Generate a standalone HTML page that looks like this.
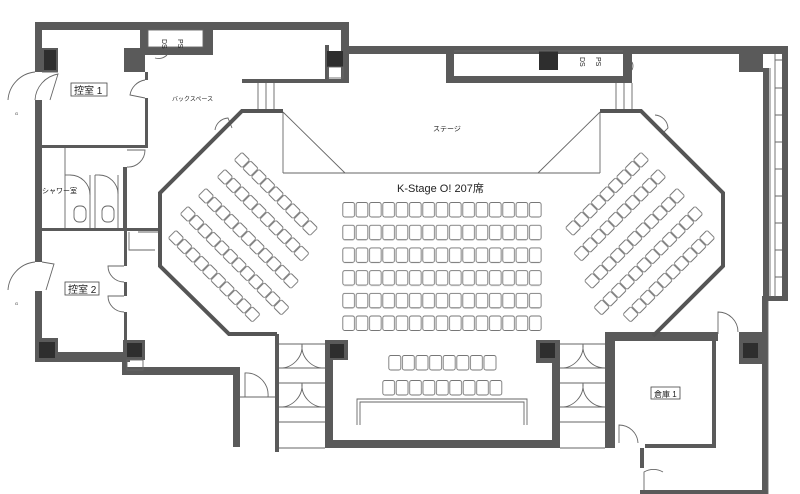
<!DOCTYPE html>
<html><head><meta charset="utf-8"><style>
html,body{margin:0;padding:0;background:#fff;}
svg{display:block;}
text{font-family:"Liberation Sans","Noto Sans CJK JP",sans-serif;fill:#222;}
</style></head><body>
<svg width="800" height="494" viewBox="0 0 800 494" xmlns="http://www.w3.org/2000/svg">
<defs>
<pattern id="dseat" width="12" height="12" patternUnits="userSpaceOnUse" x="-6" y="-6">
<rect x="0.5" y="0.5" width="11" height="11" rx="1.8" fill="#fff" stroke="#777" stroke-width="0.9"/>
</pattern>
<pattern id="cseat" width="13.33" height="16" patternUnits="userSpaceOnUse" x="342" y="202">
<rect x="0.8" y="0.5" width="11.7" height="14.5" rx="2" fill="#fff" stroke="#777" stroke-width="0.9"/>
</pattern>
<pattern id="fseat" width="13.6" height="16" patternUnits="userSpaceOnUse" x="388" y="355">
<rect x="0.8" y="0.5" width="12" height="14.5" rx="2" fill="#fff" stroke="#777" stroke-width="0.9"/>
</pattern>
<pattern id="fseat2" width="13.4" height="16" patternUnits="userSpaceOnUse" x="382" y="380">
<rect x="0.8" y="0.5" width="11.8" height="14.5" rx="2" fill="#fff" stroke="#777" stroke-width="0.9"/>
</pattern>
</defs>
<g fill="#5a5a5a">
<rect x="35" y="22" width="314" height="8"/>
<rect x="35" y="22" width="7" height="50"/>
<rect x="35" y="100" width="7" height="162"/>
<rect x="35" y="291" width="7" height="71"/>
<rect x="42" y="48" width="16" height="24"/>
<rect x="124" y="48" width="21" height="24"/>
<rect x="140" y="30" width="8" height="25"/>
<rect x="203" y="30" width="10" height="25"/>
<rect x="140" y="47" width="73" height="8"/>
<rect x="341" y="22" width="8" height="61"/>
<rect x="325" y="45" width="4" height="38"/>
<rect x="242" y="79" width="107" height="4"/>
<rect x="349" y="46" width="439" height="8"/>
<rect x="446" y="46" width="8" height="37"/>
<rect x="446" y="76" width="186" height="7"/>
<rect x="623" y="46" width="9" height="37"/>
<rect x="739" y="53" width="24" height="19"/>
<rect x="782" y="46" width="6" height="255"/>
<rect x="763" y="68" width="6" height="229"/>
<rect x="762" y="296" width="26" height="5"/>
<rect x="762" y="296" width="6" height="198"/>
<rect x="145" y="72" width="3" height="8"/>
<rect x="145" y="98" width="3" height="50"/>
<rect x="42" y="145" width="106" height="3"/>
<rect x="123" y="167" width="4" height="63"/>
<rect x="42" y="228" width="118" height="3"/>
<rect x="124" y="231" width="3" height="35"/>
<rect x="124" y="282" width="3" height="14"/>
<rect x="124" y="312" width="3" height="28"/>
<rect x="35" y="352" width="95" height="10"/>
<rect x="36" y="338" width="22" height="24"/>
<rect x="123" y="340" width="22" height="20"/>
<rect x="122" y="360" width="5" height="15"/>
<rect x="122" y="367" width="118" height="8"/>
<rect x="233" y="367" width="7" height="80"/>
<rect x="275" y="334" width="4" height="118"/>
<rect x="325" y="340" width="8" height="108"/>
<rect x="325" y="340" width="23" height="20"/>
<rect x="325" y="440" width="235" height="8"/>
<rect x="552" y="340" width="8" height="108"/>
<rect x="536" y="340" width="24" height="23"/>
<rect x="605" y="332" width="10" height="116"/>
<rect x="605" y="332" width="113" height="9"/>
<rect x="712" y="341" width="4" height="107"/>
<rect x="645" y="444" width="71" height="4"/>
<rect x="640" y="448" width="4" height="20"/>
<rect x="640" y="490" width="122" height="4"/>
<rect x="739" y="332" width="24" height="32"/>
</g>
<g fill="#2e2e2e">
<rect x="44" y="50" width="12" height="20"/>
<rect x="327" y="51" width="16" height="16"/>
<rect x="539" y="51" width="19" height="19"/>
<rect x="39" y="342" width="16" height="16"/>
<rect x="127" y="343" width="15" height="14"/>
<rect x="330" y="344" width="14" height="14"/>
<rect x="540" y="343" width="15" height="15"/>
<rect x="743" y="343" width="15" height="15"/>
</g>
<g fill="none" stroke="#666" stroke-width="0.9">
<rect x="328" y="67" width="15" height="11"/>
<line x1="454" y1="51" x2="623" y2="51"/>
<rect x="127" y="360" width="16" height="10"/>
<line x1="283" y1="112" x2="283" y2="173"/>
<line x1="283" y1="112" x2="345" y2="173"/>
<line x1="283" y1="173" x2="600" y2="173"/>
<line x1="600" y1="112" x2="600" y2="173"/>
<line x1="600" y1="112" x2="538" y2="173"/>
<line x1="258" y1="83" x2="258" y2="110"/><line x1="266" y1="83" x2="266" y2="110"/><line x1="274" y1="83" x2="274" y2="110"/>
<line x1="616" y1="83" x2="616" y2="110"/><line x1="624" y1="83" x2="624" y2="110"/><line x1="632" y1="83" x2="632" y2="110"/>
<line x1="65" y1="148" x2="65" y2="228"/>
<line x1="90" y1="175" x2="90" y2="228"/><line x1="95" y1="175" x2="95" y2="228"/>
<line x1="118" y1="175" x2="118" y2="228"/>
<line x1="65" y1="175" x2="70" y2="175"/><line x1="95" y1="175" x2="99" y2="175"/>
<path d="M70,175 A20,20 0 0 1 90,195"/><path d="M99,175 A19,19 0 0 1 118,194"/>
<rect x="74" y="206" width="12" height="16" rx="5"/><rect x="102" y="206" width="12" height="16" rx="5"/>
<path d="M42,72 L58,72 M35,100 A28,28 0 0 1 58,74 L50,100"/>
<path d="M8,100 A30,30 0 0 1 35,72"/>
<path d="M8,290 A30,30 0 0 1 35,262 M42,262 L54,264 L46,290"/>
<path d="M145,80 A18,18 0 0 0 130,95 L145,98"/>
<path d="M127,150 L145,150 A17,17 0 0 1 127,167"/>
<path d="M124,266 L108,266 A16,16 0 0 0 124,282"/>
<path d="M124,296 L108,296 A16,16 0 0 0 124,312"/>
<path d="M155,58 A12,12 0 0 0 167,55"/>
<path d="M215,130 A14,14 0 0 1 228,118 L232,128"/>
<path d="M655,115 A14,14 0 0 1 668,128 L662,134"/>
<path d="M632,62 A9,9 0 0 1 632,70"/>
<path d="M245,397 L245,373 A22,22 0 0 1 268,397 L240,397 M268,397 L275,397"/>
<path d="M718,334 L718,312 A20,20 0 0 1 738,332"/>
<path d="M619,443 L619,425 A19,19 0 0 1 638,443"/>
<path d="M644,490 L644,472 A19,19 0 0 1 663,472"/>
<line x1="138" y1="232" x2="160" y2="232"/>
<path d="M129,232 L129,250 L155,250"/>
<path d="M279,344H325M279,368H325M279,383H325M279,407H325M279,422H325M279,448H325"/>
<path d="M279,368 A22,22 0 0 0 302,344 A22,22 0 0 0 325,368"/>
<path d="M279,407 A22,22 0 0 0 302,383 A22,22 0 0 0 325,407"/>
<path d="M560,344H605M560,368H605M560,383H605M560,407H605M560,422H605M560,448H605"/>
<path d="M560,368 A22,22 0 0 0 583,344 A22,22 0 0 0 605,368"/>
<path d="M560,407 A22,22 0 0 0 583,383 A22,22 0 0 0 605,407"/>
<path d="M357,425 V399 H527 V425 M360,425 V402 H524 V425"/>
<line x1="770" y1="68" x2="770" y2="297"/>
<line x1="775" y1="54" x2="775" y2="297"/>
<path d="M775,60H782M775,88H782M775,115H782M775,142H782M775,169H782M775,196H782M775,223H782M775,250H782M775,277H782"/>
<line x1="768" y1="301" x2="768" y2="494"/>
<rect x="148" y="30" width="55" height="17"/>
</g>
<g fill="none" stroke="#555" stroke-width="4" stroke-linejoin="miter">
<path d="M283,111 L242,111 L160,193 L160,266 L229,334 L277,334"/>
<path d="M600,111 L641,111 L723,193 L723,266 L657,332 L653,336"/>
</g>
<g fill="url(#dseat)">
<g transform="translate(242,160) rotate(45)"><rect x="-6" y="-6" width="108" height="12"/></g>
<g transform="translate(225,177) rotate(45)"><rect x="-6" y="-6" width="120" height="12"/></g>
<g transform="translate(206,196) rotate(45)"><rect x="-6" y="-6" width="132" height="12"/></g>
<g transform="translate(188,214) rotate(45)"><rect x="-6" y="-6" width="144" height="12"/></g>
<g transform="translate(176,238) rotate(45)"><rect x="-6" y="-6" width="120" height="12"/></g>
<g transform="translate(641,160) rotate(135)"><rect x="-6" y="-6" width="108" height="12"/></g>
<g transform="translate(658,177) rotate(135)"><rect x="-6" y="-6" width="120" height="12"/></g>
<g transform="translate(677,196) rotate(135)"><rect x="-6" y="-6" width="132" height="12"/></g>
<g transform="translate(695,214) rotate(135)"><rect x="-6" y="-6" width="144" height="12"/></g>
<g transform="translate(707,238) rotate(135)"><rect x="-6" y="-6" width="120" height="12"/></g>
</g>
<rect x="342" y="202" width="200" height="16" fill="url(#cseat)"/>
<g transform="translate(0,22.7)"><rect x="342" y="202" width="200" height="16" fill="url(#cseat)"/></g>
<g transform="translate(0,45.4)"><rect x="342" y="202" width="200" height="16" fill="url(#cseat)"/></g>
<g transform="translate(0,68.1)"><rect x="342" y="202" width="200" height="16" fill="url(#cseat)"/></g>
<g transform="translate(0,90.8)"><rect x="342" y="202" width="200" height="16" fill="url(#cseat)"/></g>
<g transform="translate(0,113.5)"><rect x="342" y="202" width="200" height="16" fill="url(#cseat)"/></g>
<rect x="388" y="355" width="108.8" height="16" fill="url(#fseat)"/>
<rect x="382" y="380" width="120.6" height="16" fill="url(#fseat2)"/>
<g stroke="#444" stroke-width="0.8" fill="#fff">
<rect x="71" y="83" width="36" height="13"/>
<rect x="65" y="282" width="34" height="13"/>
<rect x="651" y="387" width="29" height="12"/>
</g>
<text x="74" y="94" font-size="10">控室 1</text>
<text x="68" y="293" font-size="10">控室 2</text>
<text x="654" y="397" font-size="8">倉庫 1</text>
<text x="172" y="101" font-size="6">バックスペース</text>
<text x="433" y="131" font-size="7">ステージ</text>
<text x="42" y="193" font-size="7">シャワー室</text>
<text x="397" y="192" font-size="11" fill="#333">K-Stage O! 207席</text>
<text x="15" y="115" font-size="4">G</text>
<text x="15" y="305" font-size="4">G</text>
<text font-size="7" transform="translate(162,39) rotate(90)">DS</text>
<text font-size="7" transform="translate(178,39) rotate(90)">PS</text>
<text font-size="7" transform="translate(580,57) rotate(90)">DS</text>
<text font-size="7" transform="translate(596,57) rotate(90)">PS</text>
</svg>
</body></html>
